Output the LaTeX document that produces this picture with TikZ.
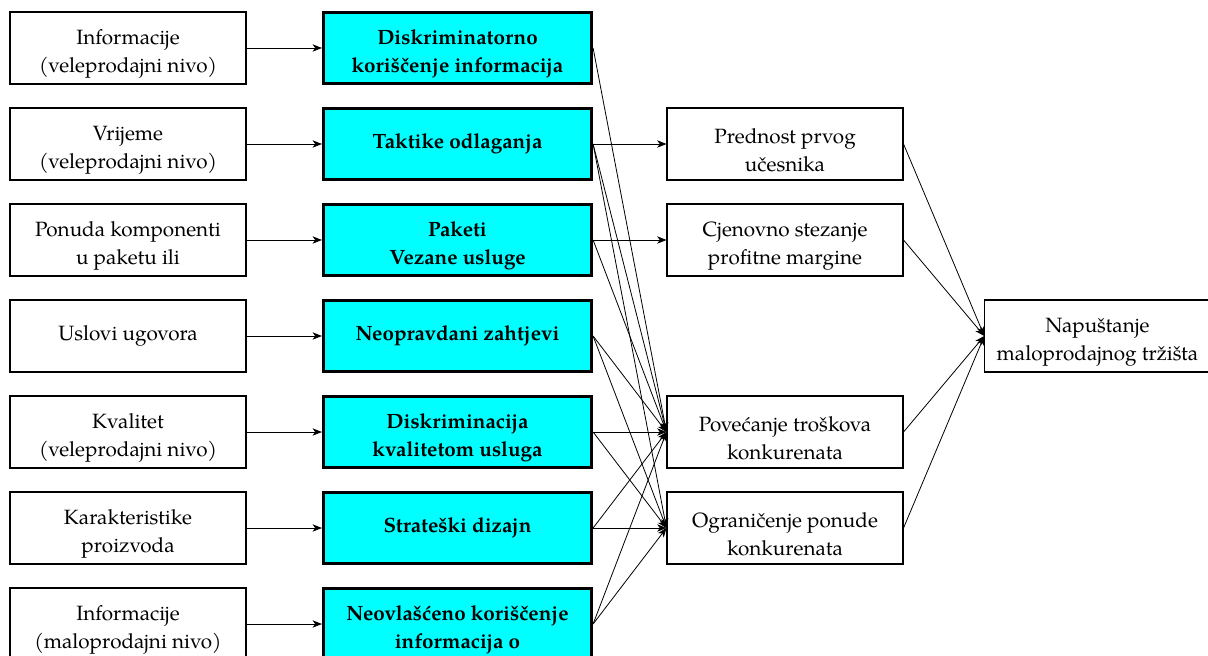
\documentclass[tikz,border=0pt]{standalone}
\usepackage{fontspec}
\setmainfont{TeX Gyre Pagella}
\usepackage{tikz}
\usetikzlibrary{arrows.meta}
\definecolor{tirkiz}{RGB}{0,255,255}

\begin{document}
\begin{tikzpicture}[x=0.75pt,y=-0.75pt,
    font=\fontsize{15.5}{21}\selectfont,
    ulaz/.style={draw,line width=0.8pt,minimum width=177pt,minimum height=54pt,align=center,inner sep=2pt},
    praksa/.style={draw,line width=2.4pt,fill=tirkiz,minimum width=201pt,minimum height=53pt,align=center,inner sep=2pt,font=\fontsize{15.5}{21}\selectfont\bfseries},
    efekt/.style={ulaz},
    dvared/.style={text height=41pt},
    veza/.style={-{Stealth[length=7pt,width=5.5pt,inset=2pt]},line width=0.6pt}]
            \clip (0,0) rectangle (1208,656);
            % ulazi
            \node[ulaz,dvared](in1) at (128,48) {Informacije\\(veleprodajni nivo)};
            \node[ulaz,dvared](in2) at (128,144) {Vrijeme\\(veleprodajni nivo)};
            \node[ulaz,dvared](in3) at (128,240) {Ponuda komponenti\\u paketu ili};
            \node[ulaz](in4) at (128,336) {Uslovi ugovora};
            \node[ulaz,dvared](in5) at (128,432) {Kvalitet\\(veleprodajni nivo)};
            \node[ulaz,dvared](in6) at (128,528) {Karakteristike\\proizvoda};
            \node[ulaz,dvared](in7) at (128,624) {Informacije\\(maloprodajni nivo)};
            % prakse
            \node[praksa,dvared](pr1) at (457.5,48) {Diskriminatorno\\koriščenje informacija};
            \node[praksa](pr2) at (457.5,144) {Taktike odlaganja};
            \node[praksa,dvared](pr3) at (457.5,240) {Paketi\\Vezane usluge};
            \node[praksa](pr4) at (457.5,336) {Neopravdani zahtjevi};
            \node[praksa,dvared](pr5) at (457.5,432) {Diskriminacija\\kvalitetom usluga};
            \node[praksa](pr6) at (457.5,528) {Strateški dizajn};
            \node[praksa,dvared](pr7) at (457.5,624) {Neovlašćeno koriščenje\\informacija o};
            % efekti
            \node[efekt,dvared](ef1) at (785,144) {Prednost prvog\\učesnika};
            \node[efekt,dvared](ef2) at (785,240) {Cjenovno stezanje\\profitne margine};
            \node[efekt,dvared](ef3) at (785,432) {Povećanje troškova\\konkurenata};
            \node[efekt,dvared](ef4) at (785,528) {Ograničenje ponude\\konkurenata};
            \node[efekt,dvared,minimum width=169pt](kraj) at (1097.5,336) {Napuštanje\\maloprodajnog tržišta};
            \draw[veza] (in1) -- (pr1);
            \draw[veza] (in2) -- (pr2);
            \draw[veza] (in3) -- (pr3);
            \draw[veza] (in4) -- (pr4);
            \draw[veza] (in5) -- (pr5);
            \draw[veza] (in6) -- (pr6);
            \draw[veza] (in7) -- (pr7);
            \draw[veza] (pr1.east) -- (ef3.west);
            \draw[veza] (pr2.east) -- (ef1.west);
            \draw[veza] (pr2.east) -- (ef3.west);
            \draw[veza] (pr2.east) -- (ef4.west);
            \draw[veza] (pr3.east) -- (ef2.west);
            \draw[veza] (pr3.east) -- (ef3.west);
            \draw[veza] (pr4.east) -- (ef3.west);
            \draw[veza] (pr4.east) -- (ef4.west);
            \draw[veza] (pr5.east) -- (ef3.west);
            \draw[veza] (pr5.east) -- (ef4.west);
            \draw[veza] (pr6.east) -- (ef3.west);
            \draw[veza] (pr6.east) -- (ef4.west);
            \draw[veza] (pr7.east) -- (ef3.west);
            \draw[veza] (pr7.east) -- (ef4.west);
            \draw[veza] (ef1.east) -- (kraj.west);
            \draw[veza] (ef2.east) -- (kraj.west);
            \draw[veza] (ef3.east) -- (kraj.west);
            \draw[veza] (ef4.east) -- (kraj.west);
        \end{tikzpicture}
\end{document}
